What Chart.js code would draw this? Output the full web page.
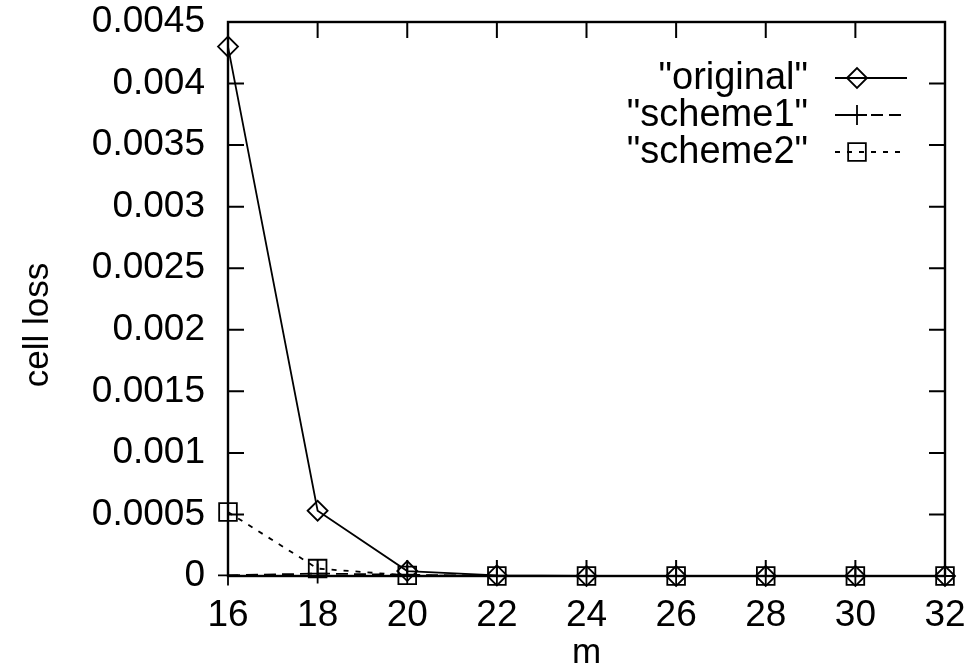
<!DOCTYPE html>
<html>
<head>
<meta charset="utf-8">
<script src="https://cdn.jsdelivr.net/npm/chart.js@4.4.1/dist/chart.umd.min.js"></script>
<style>
  html, body { margin: 0; padding: 0; background: #fff; }
  #wrap { width: 968px; height: 671px; }
</style>
</head>
<body>
<div id="wrap"><canvas id="lossChart" width="968" height="671"></canvas></div>
<script>
// values
var mValues = [16, 18, 20, 22, 24, 26, 28, 30, 32];
var original = [0.0043, 0.00053, 0.00004, 0.000005, 0, 0, 0, 0, 0];
var scheme1 = [0.000005, 0.00002, 0.00001, 0, 0, 0, 0, 0, 0];
var scheme2 = [0.00052, 0.00006, 0.000005, 0, 0, 0, 0, 0, 0];
var seriesNames = ['"original"', '"scheme1"', '"scheme2"'];
var yTicks = [0, 0.0005, 0.001, 0.0015, 0.002, 0.0025, 0.003, 0.0035, 0.004, 0.0045];
var xTitle = 'm';
var yTitle = 'cell loss';

var FONT = "'Liberation Sans', Arial, Helvetica, sans-serif";

function pts(arr) {
  return arr.map(function (v, i) { return { x: mValues[i], y: v }; });
}

var datasets = [
  { label: seriesNames[0], data: pts(original), borderDash: [], pointStyle: 'rectRot', pointRadius: 10 },
  { label: seriesNames[1], data: pts(scheme1), borderDash: [12, 6], pointStyle: 'cross', pointRadius: 10 },
  { label: seriesNames[2], data: pts(scheme2), borderDash: [5, 7], pointStyle: 'rect', pointRadius: 12.5 }
].map(function (d) {
  d.borderColor = '#000';
  d.backgroundColor = 'rgba(0,0,0,0)';
  d.pointBorderColor = '#000';
  d.pointBackgroundColor = 'rgba(0,0,0,0)';
  d.pointBorderWidth = 1.8;
  d.borderWidth = 1.8;
  d.tension = 0;
  d.clip = false;
  return d;
});

// frame + inward ticks on all four sides, gnuplot style; y title placed by hand
var framePlugin = {
  id: 'frame',
  afterDraw: function (chart) {
    var ctx = chart.ctx, a = chart.chartArea;
    var xs = chart.scales.x, ys = chart.scales.y;
    var len = 16;
    ctx.save();
    ctx.strokeStyle = '#000';
    ctx.lineWidth = 2.4;
    ctx.setLineDash([]);
    ctx.strokeRect(a.left, a.top, a.right - a.left, a.bottom - a.top);
    ctx.lineWidth = 2;
    ctx.beginPath();
    xs.ticks.forEach(function (t) {
      var px = xs.getPixelForValue(t.value);
      ctx.moveTo(px, a.bottom); ctx.lineTo(px, a.bottom - len);
      ctx.moveTo(px, a.top); ctx.lineTo(px, a.top + len);
    });
    ys.ticks.forEach(function (t) {
      var py = ys.getPixelForValue(t.value);
      ctx.moveTo(a.left, py); ctx.lineTo(a.left + len, py);
      ctx.moveTo(a.right, py); ctx.lineTo(a.right - len, py);
    });
    ctx.stroke();

    ctx.translate(38, 325);
    ctx.rotate(-Math.PI / 2);
    ctx.font = '35px ' + FONT;
    ctx.fillStyle = '#000';
    ctx.textAlign = 'center';
    ctx.textBaseline = 'middle';
    ctx.fillText(yTitle, 0, 0);
    ctx.restore();
  }
};

// key drawn inside the plot: text right aligned, sample line on its right
var keyPlugin = {
  id: 'key',
  afterDraw: function (chart) {
    var ctx = chart.ctx;
    var textRight = 808, x0 = 835, x1 = 907, mx = 857, top = 78, step = 37;
    ctx.save();
    ctx.font = '38px ' + FONT;
    ctx.textAlign = 'right';
    ctx.textBaseline = 'middle';
    chart.data.datasets.forEach(function (d, i) {
      var y = top + i * step;
      ctx.fillStyle = '#000';
      ctx.fillText(d.label, textRight, y + 1);
      ctx.strokeStyle = '#000';
      ctx.lineWidth = d.borderWidth;
      ctx.setLineDash(d.borderDash);
      ctx.beginPath();
      ctx.moveTo(x0, y); ctx.lineTo(x1, y);
      ctx.stroke();
      ctx.setLineDash([]);
      ctx.lineWidth = d.pointBorderWidth;
      ctx.fillStyle = 'rgba(0,0,0,0)';
      Chart.helpers.drawPoint(ctx, {
        pointStyle: d.pointStyle, rotation: 0, radius: d.pointRadius, borderWidth: d.pointBorderWidth
      }, mx, y);
    });
    ctx.restore();
  }
};

new Chart(document.getElementById('lossChart'), {
  type: 'line',
  data: { datasets: datasets },
  options: {
    responsive: false,
    animation: false,
    layout: { padding: { top: 22, right: 23, left: 0, bottom: 0 } },
    plugins: { legend: { display: false }, tooltip: { enabled: false } },
    scales: {
      x: {
        type: 'linear',
        min: 16, max: 32,
        afterFit: function (s) { s.height = 95; s.paddingRight = 0; s.paddingLeft = 0; },
        ticks: { stepSize: 2, color: '#000', padding: 18, font: { family: FONT, size: 37 } },
        grid: { drawOnChartArea: false, drawTicks: false },
        border: { display: false },
        title: { display: true, text: xTitle, color: '#000', padding: { top: 0, bottom: 0 }, font: { family: FONT, size: 35, lineHeight: 1.0 } }
      },
      y: {
        type: 'linear',
        min: 0, max: 0.0045,
        afterFit: function (s) { s.width = 228; s.paddingTop = 0; s.paddingBottom = 0; },
        afterBuildTicks: function (s) { s.ticks = yTicks.map(function (v) { return { value: v }; }); },
        ticks: {
          color: '#000', padding: 23, font: { family: FONT, size: 37 },
          callback: function (v) { return String(Number(v.toFixed(5))); }
        },
        grid: { drawOnChartArea: false, drawTicks: false },
        border: { display: false }
      }
    }
  },
  plugins: [framePlugin, keyPlugin]
});
</script>
</body>
</html>
